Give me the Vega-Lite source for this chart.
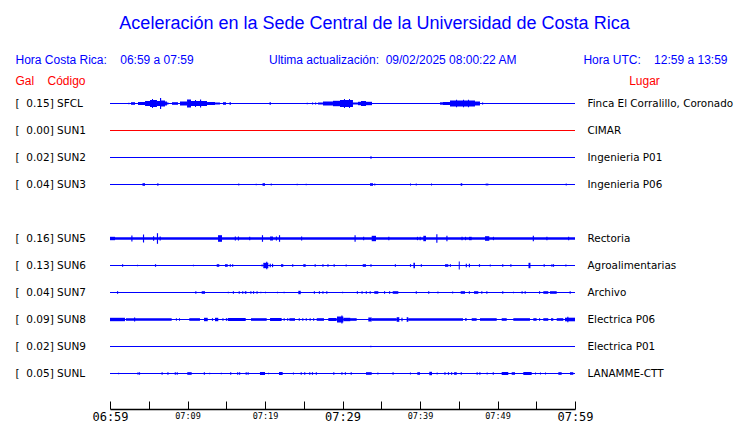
{
  "$schema": "https://vega.github.io/schema/vega-lite/v6.json",
  "width": 465,
  "height": 324,
  "autosize": {"type": "none"},
  "padding": {"left": 110, "top": 76, "right": 165, "bottom": 23},
  "background": "white",
  "config": {"view": {"stroke": null}, "axis": {"grid": false}},
  "title": {
    "text": "Aceleración en la Sede Central de la Universidad de Costa Rica",
    "font": "Liberation Sans",
    "fontSize": 18,
    "fontWeight": "normal",
    "color": "#0000ff",
    "anchor": "middle",
    "dx": 32,
    "offset": 20
  },
  "datasets": {
    "stations": [
      {"s": "SFCL", "gal": 0.15, "place": "Finca El Corralillo, Coronado"},
      {"s": "SUN1", "gal": 0.00, "place": "CIMAR"},
      {"s": "SUN2", "gal": 0.02, "place": "Ingenieria P01"},
      {"s": "SUN3", "gal": 0.04, "place": "Ingenieria P06"},
      {"s": "SUN5", "gal": 0.16, "place": "Rectoria"},
      {"s": "SUN6", "gal": 0.13, "place": "Agroalimentarias"},
      {"s": "SUN7", "gal": 0.04, "place": "Archivo"},
      {"s": "SUN8", "gal": 0.09, "place": "Electrica P06"},
      {"s": "SUN9", "gal": 0.02, "place": "Electrica P01"},
      {"s": "SUNL", "gal": 0.05, "place": "LANAMME-CTT"}
    ],
    "bursts": [
      {"s":"SFCL","t0":2.36,"t1":2.51,"a":0.7},
      {"s":"SFCL","t0":2.71,"t1":3.23,"a":1.3},
      {"s":"SFCL","t0":3.61,"t1":4.52,"a":1.5},
      {"s":"SFCL","t0":4.52,"t1":5.16,"a":2.5},
      {"s":"SFCL","t0":5.16,"t1":6.06,"a":3.5},
      {"s":"SFCL","t0":5.42,"t1":5.55,"a":4.5},
      {"s":"SFCL","t0":6.06,"t1":6.45,"a":2.5},
      {"s":"SFCL","t0":6.45,"t1":6.6,"a":5.5},
      {"s":"SFCL","t0":6.58,"t1":7.1,"a":3},
      {"s":"SFCL","t0":7.1,"t1":7.35,"a":2},
      {"s":"SFCL","t0":7.35,"t1":7.55,"a":1},
      {"s":"SFCL","t0":8.0,"t1":8.77,"a":1.3},
      {"s":"SFCL","t0":9.03,"t1":9.94,"a":2},
      {"s":"SFCL","t0":9.94,"t1":10.45,"a":4},
      {"s":"SFCL","t0":10.45,"t1":12.52,"a":2.5},
      {"s":"SFCL","t0":10.97,"t1":11.1,"a":3.5},
      {"s":"SFCL","t0":11.61,"t1":11.76,"a":4},
      {"s":"SFCL","t0":12.52,"t1":13.55,"a":1.5},
      {"s":"SFCL","t0":13.55,"t1":14.19,"a":1},
      {"s":"SFCL","t0":14.58,"t1":14.97,"a":1.3},
      {"s":"SFCL","t0":15.42,"t1":15.61,"a":1.3},
      {"s":"SFCL","t0":20.58,"t1":20.77,"a":1.3},
      {"s":"SFCL","t0":25.38,"t1":25.53,"a":0.7},
      {"s":"SFCL","t0":26.06,"t1":26.21,"a":1},
      {"s":"SFCL","t0":26.45,"t1":26.6,"a":1},
      {"s":"SFCL","t0":26.84,"t1":27.48,"a":1},
      {"s":"SFCL","t0":27.48,"t1":28.77,"a":2},
      {"s":"SFCL","t0":28.77,"t1":29.68,"a":2.7},
      {"s":"SFCL","t0":29.68,"t1":31.35,"a":3.5},
      {"s":"SFCL","t0":30.19,"t1":30.32,"a":4.5},
      {"s":"SFCL","t0":30.84,"t1":30.97,"a":4.5},
      {"s":"SFCL","t0":31.35,"t1":32.0,"a":1},
      {"s":"SFCL","t0":32.0,"t1":33.81,"a":1.7},
      {"s":"SFCL","t0":32.39,"t1":33.03,"a":2.5},
      {"s":"SFCL","t0":42.58,"t1":42.97,"a":1.2},
      {"s":"SFCL","t0":42.97,"t1":43.87,"a":1.5},
      {"s":"SFCL","t0":43.87,"t1":47.1,"a":3},
      {"s":"SFCL","t0":44.65,"t1":44.78,"a":3.8},
      {"s":"SFCL","t0":45.55,"t1":45.68,"a":3.8},
      {"s":"SFCL","t0":46.19,"t1":46.32,"a":3.8},
      {"s":"SFCL","t0":47.1,"t1":47.74,"a":2},
      {"s":"SFCL","t0":48.0,"t1":48.15,"a":1},
      {"s":"SFCL","t0":48.65,"t1":48.8,"a":0.6},

      {"s":"SUN2","t0":33.6,"t1":33.75,"a":1.2},

      {"s":"SUN3","t0":4.19,"t1":4.52,"a":1.3},
      {"s":"SUN3","t0":6.1,"t1":6.25,"a":1.3},
      {"s":"SUN3","t0":16.55,"t1":16.68,"a":1},
      {"s":"SUN3","t0":18.8,"t1":18.93,"a":0.7},
      {"s":"SUN3","t0":19.68,"t1":20.0,"a":1.3},
      {"s":"SUN3","t0":20.74,"t1":20.87,"a":1},
      {"s":"SUN3","t0":24.09,"t1":24.22,"a":0.7},
      {"s":"SUN3","t0":25.25,"t1":25.38,"a":0.7},
      {"s":"SUN3","t0":33.55,"t1":33.94,"a":1.3},
      {"s":"SUN3","t0":34.1,"t1":34.23,"a":1},
      {"s":"SUN3","t0":38.71,"t1":38.84,"a":1},
      {"s":"SUN3","t0":39.45,"t1":39.58,"a":1},
      {"s":"SUN3","t0":41.42,"t1":41.55,"a":1},
      {"s":"SUN3","t0":45.25,"t1":45.45,"a":1.3},
      {"s":"SUN3","t0":48.48,"t1":48.61,"a":1},
      {"s":"SUN3","t0":48.68,"t1":48.81,"a":1},
      {"s":"SUN3","t0":58.8,"t1":58.93,"a":1},

      {"s":"SUN5","t0":0,"t1":60,"a":1.3},
      {"s":"SUN5","t0":0,"t1":0.65,"a":1.7},
      {"s":"SUN5","t0":2.75,"t1":2.9,"a":3},
      {"s":"SUN5","t0":4.25,"t1":4.4,"a":4},
      {"s":"SUN5","t0":5.55,"t1":5.7,"a":2.3},
      {"s":"SUN5","t0":6.05,"t1":6.2,"a":5.3},
      {"s":"SUN5","t0":6.4,"t1":6.55,"a":2},
      {"s":"SUN5","t0":13.94,"t1":14.45,"a":3.3},
      {"s":"SUN5","t0":16.1,"t1":16.25,"a":2},
      {"s":"SUN5","t0":16.5,"t1":16.65,"a":2},
      {"s":"SUN5","t0":17.95,"t1":18.1,"a":1.7},
      {"s":"SUN5","t0":19.6,"t1":19.75,"a":3.3},
      {"s":"SUN5","t0":20.65,"t1":21.03,"a":2},
      {"s":"SUN5","t0":21.4,"t1":21.55,"a":2},
      {"s":"SUN5","t0":21.8,"t1":21.95,"a":3.3},
      {"s":"SUN5","t0":24.65,"t1":24.8,"a":2},
      {"s":"SUN5","t0":31.55,"t1":31.7,"a":3.3},
      {"s":"SUN5","t0":32.65,"t1":32.8,"a":1.7},
      {"s":"SUN5","t0":33.77,"t1":34.32,"a":2.7},
      {"s":"SUN5","t0":35.9,"t1":36.05,"a":1.7},
      {"s":"SUN5","t0":39.6,"t1":39.75,"a":1.7},
      {"s":"SUN5","t0":39.95,"t1":40.1,"a":1.7},
      {"s":"SUN5","t0":40.43,"t1":40.77,"a":2.7},
      {"s":"SUN5","t0":42.1,"t1":42.25,"a":4.3},
      {"s":"SUN5","t0":43.4,"t1":43.55,"a":2.7},
      {"s":"SUN5","t0":45.35,"t1":45.5,"a":1.7},
      {"s":"SUN5","t0":45.8,"t1":45.95,"a":1.7},
      {"s":"SUN5","t0":46.32,"t1":46.67,"a":1.7},
      {"s":"SUN5","t0":48.39,"t1":48.94,"a":2.3},
      {"s":"SUN5","t0":49.4,"t1":49.55,"a":1.7},
      {"s":"SUN5","t0":54.55,"t1":54.7,"a":2.7},
      {"s":"SUN5","t0":56.3,"t1":56.45,"a":1.7},
      {"s":"SUN5","t0":59.1,"t1":59.25,"a":1.7},

      {"s":"SUN6","t0":1.55,"t1":1.7,"a":1.3},
      {"s":"SUN6","t0":3.5,"t1":3.62,"a":0.8},
      {"s":"SUN6","t0":5.8,"t1":5.95,"a":1.3},
      {"s":"SUN6","t0":10.7,"t1":10.83,"a":0.7},
      {"s":"SUN6","t0":13.77,"t1":14.1,"a":1.3},
      {"s":"SUN6","t0":14.84,"t1":15.19,"a":1.3},
      {"s":"SUN6","t0":15.45,"t1":15.6,"a":1.3},
      {"s":"SUN6","t0":15.75,"t1":15.9,"a":1.3},
      {"s":"SUN6","t0":19.55,"t1":19.7,"a":1},
      {"s":"SUN6","t0":19.78,"t1":20.43,"a":2.7},
      {"s":"SUN6","t0":20.15,"t1":20.3,"a":3.7},
      {"s":"SUN6","t0":20.6,"t1":20.75,"a":1.7},
      {"s":"SUN6","t0":20.9,"t1":21.05,"a":1.7},
      {"s":"SUN6","t0":22.06,"t1":22.36,"a":1.3},
      {"s":"SUN6","t0":23.5,"t1":23.65,"a":1.3},
      {"s":"SUN6","t0":24.94,"t1":25.25,"a":1.3},
      {"s":"SUN6","t0":26.4,"t1":26.55,"a":1.3},
      {"s":"SUN6","t0":27.4,"t1":27.55,"a":1.3},
      {"s":"SUN6","t0":28.05,"t1":28.2,"a":1.3},
      {"s":"SUN6","t0":28.85,"t1":29.0,"a":1.3},
      {"s":"SUN6","t0":30.4,"t1":30.55,"a":1},
      {"s":"SUN6","t0":32.61,"t1":33.03,"a":1.3},
      {"s":"SUN6","t0":33.6,"t1":33.75,"a":1.3},
      {"s":"SUN6","t0":36.75,"t1":36.9,"a":1.3},
      {"s":"SUN6","t0":38.7,"t1":38.85,"a":1.3},
      {"s":"SUN6","t0":39.15,"t1":39.35,"a":2.7},
      {"s":"SUN6","t0":40.1,"t1":40.25,"a":1.3},
      {"s":"SUN6","t0":43.23,"t1":43.65,"a":1.3},
      {"s":"SUN6","t0":43.85,"t1":44.0,"a":1.3},
      {"s":"SUN6","t0":45.0,"t1":45.13,"a":4},
      {"s":"SUN6","t0":45.9,"t1":46.05,"a":1.7},
      {"s":"SUN6","t0":46.3,"t1":46.45,"a":1.7},
      {"s":"SUN6","t0":47.6,"t1":47.75,"a":1.3},
      {"s":"SUN6","t0":49.0,"t1":49.13,"a":1},
      {"s":"SUN6","t0":50.6,"t1":50.75,"a":1.3},
      {"s":"SUN6","t0":51.65,"t1":51.8,"a":1.3},
      {"s":"SUN6","t0":54.0,"t1":54.25,"a":2.7},
      {"s":"SUN6","t0":55.95,"t1":56.1,"a":1.3},
      {"s":"SUN6","t0":56.95,"t1":57.1,"a":1.3},
      {"s":"SUN6","t0":57.15,"t1":57.3,"a":1.3},
      {"s":"SUN6","t0":58.75,"t1":58.9,"a":1},

      {"s":"SUN7","t0":0.9,"t1":1.05,"a":1.3},
      {"s":"SUN7","t0":11.0,"t1":11.15,"a":1.3},
      {"s":"SUN7","t0":11.83,"t1":12.26,"a":1.3},
      {"s":"SUN7","t0":15.2,"t1":15.33,"a":0.7},
      {"s":"SUN7","t0":15.85,"t1":16.0,"a":1.3},
      {"s":"SUN7","t0":16.6,"t1":16.75,"a":1.3},
      {"s":"SUN7","t0":17.05,"t1":17.2,"a":1.3},
      {"s":"SUN7","t0":17.4,"t1":17.6,"a":1.3},
      {"s":"SUN7","t0":18.1,"t1":18.25,"a":1.3},
      {"s":"SUN7","t0":18.45,"t1":18.6,"a":1.3},
      {"s":"SUN7","t0":18.9,"t1":19.05,"a":1.3},
      {"s":"SUN7","t0":19.4,"t1":19.53,"a":0.7},
      {"s":"SUN7","t0":20.0,"t1":20.13,"a":0.7},
      {"s":"SUN7","t0":21.55,"t1":21.68,"a":0.7},
      {"s":"SUN7","t0":22.4,"t1":22.53,"a":0.7},
      {"s":"SUN7","t0":24.3,"t1":24.61,"a":1.7},
      {"s":"SUN7","t0":26.3,"t1":26.45,"a":1.3},
      {"s":"SUN7","t0":26.95,"t1":27.1,"a":1.3},
      {"s":"SUN7","t0":27.4,"t1":27.55,"a":1.3},
      {"s":"SUN7","t0":27.9,"t1":28.05,"a":1.3},
      {"s":"SUN7","t0":29.95,"t1":30.08,"a":0.7},
      {"s":"SUN7","t0":31.85,"t1":32.0,"a":1.3},
      {"s":"SUN7","t0":32.45,"t1":32.6,"a":1.3},
      {"s":"SUN7","t0":33.0,"t1":33.15,"a":1.3},
      {"s":"SUN7","t0":33.5,"t1":33.65,"a":1.3},
      {"s":"SUN7","t0":34.1,"t1":34.62,"a":1.3},
      {"s":"SUN7","t0":35.35,"t1":35.5,"a":1.3},
      {"s":"SUN7","t0":36.0,"t1":36.15,"a":1.3},
      {"s":"SUN7","t0":36.48,"t1":37.2,"a":1.3},
      {"s":"SUN7","t0":39.45,"t1":39.6,"a":1.3},
      {"s":"SUN7","t0":41.05,"t1":41.2,"a":1.3},
      {"s":"SUN7","t0":42.25,"t1":42.38,"a":1},
      {"s":"SUN7","t0":44.15,"t1":44.28,"a":1},
      {"s":"SUN7","t0":45.25,"t1":45.81,"a":1.3},
      {"s":"SUN7","t0":46.3,"t1":46.45,"a":1.3},
      {"s":"SUN7","t0":46.97,"t1":47.52,"a":1.3},
      {"s":"SUN7","t0":47.9,"t1":48.05,"a":1.3},
      {"s":"SUN7","t0":48.55,"t1":48.7,"a":1.3},
      {"s":"SUN7","t0":50.6,"t1":50.75,"a":1.3},
      {"s":"SUN7","t0":52.0,"t1":52.13,"a":0.8},
      {"s":"SUN7","t0":53.1,"t1":53.25,"a":1.3},
      {"s":"SUN7","t0":53.5,"t1":53.65,"a":1.3},
      {"s":"SUN7","t0":55.35,"t1":55.5,"a":1.3},
      {"s":"SUN7","t0":55.91,"t1":56.55,"a":1.3},
      {"s":"SUN7","t0":56.77,"t1":57.64,"a":1.3},
      {"s":"SUN7","t0":59.3,"t1":59.45,"a":1.3},

      {"s":"SUN8","t0":0,"t1":1.94,"a":1.7},
      {"s":"SUN8","t0":2.06,"t1":7.96,"a":1.3},
      {"s":"SUN8","t0":3.1,"t1":3.25,"a":2},
      {"s":"SUN8","t0":8.5,"t1":8.63,"a":1.2},
      {"s":"SUN8","t0":8.9,"t1":9.03,"a":1.2},
      {"s":"SUN8","t0":10.23,"t1":11.61,"a":1.3},
      {"s":"SUN8","t0":12.13,"t1":12.61,"a":1.7},
      {"s":"SUN8","t0":13.15,"t1":13.3,"a":1.3},
      {"s":"SUN8","t0":13.55,"t1":13.97,"a":1.7},
      {"s":"SUN8","t0":14.5,"t1":14.65,"a":1.3},
      {"s":"SUN8","t0":14.95,"t1":15.1,"a":1.3},
      {"s":"SUN8","t0":15.19,"t1":17.51,"a":1.5},
      {"s":"SUN8","t0":18.19,"t1":20.22,"a":1.3},
      {"s":"SUN8","t0":20.65,"t1":22.15,"a":1.5},
      {"s":"SUN8","t0":22.4,"t1":22.55,"a":1.3},
      {"s":"SUN8","t0":22.85,"t1":23.0,"a":1.3},
      {"s":"SUN8","t0":23.14,"t1":23.87,"a":1.3},
      {"s":"SUN8","t0":24.35,"t1":24.5,"a":1.3},
      {"s":"SUN8","t0":24.8,"t1":24.95,"a":1.3},
      {"s":"SUN8","t0":25.25,"t1":25.4,"a":1.3},
      {"s":"SUN8","t0":25.75,"t1":25.9,"a":1.3},
      {"s":"SUN8","t0":26.2,"t1":26.35,"a":1.3},
      {"s":"SUN8","t0":26.67,"t1":27.61,"a":1.3},
      {"s":"SUN8","t0":28.17,"t1":29.25,"a":1.5},
      {"s":"SUN8","t0":29.29,"t1":30.1,"a":3},
      {"s":"SUN8","t0":29.85,"t1":30.0,"a":4},
      {"s":"SUN8","t0":30.1,"t1":31.0,"a":1.7},
      {"s":"SUN8","t0":30.45,"t1":31.83,"a":1.3},
      {"s":"SUN8","t0":33.33,"t1":33.77,"a":2},
      {"s":"SUN8","t0":33.77,"t1":36.99,"a":1.3},
      {"s":"SUN8","t0":36.99,"t1":37.33,"a":2.3},
      {"s":"SUN8","t0":37.6,"t1":37.75,"a":1.7},
      {"s":"SUN8","t0":38.28,"t1":38.49,"a":2.3},
      {"s":"SUN8","t0":38.49,"t1":45.55,"a":1.2},
      {"s":"SUN8","t0":45.81,"t1":46.03,"a":1.3},
      {"s":"SUN8","t0":46.67,"t1":47.31,"a":1.3},
      {"s":"SUN8","t0":47.74,"t1":49.9,"a":1.3},
      {"s":"SUN8","t0":50.54,"t1":51.19,"a":1.3},
      {"s":"SUN8","t0":52.04,"t1":54.19,"a":1.3},
      {"s":"SUN8","t0":54.62,"t1":55.05,"a":1.3},
      {"s":"SUN8","t0":55.35,"t1":55.5,"a":1.3},
      {"s":"SUN8","t0":55.91,"t1":56.55,"a":1.3},
      {"s":"SUN8","t0":56.9,"t1":57.2,"a":1.3},
      {"s":"SUN8","t0":57.64,"t1":58.49,"a":1.3},
      {"s":"SUN8","t0":58.71,"t1":60,"a":1.8},
      {"s":"SUN8","t0":59.0,"t1":59.15,"a":2.7},

      {"s":"SUN9","t0":33.6,"t1":33.72,"a":0.8},

      {"s":"SUNL","t0":1.05,"t1":1.18,"a":0.8},
      {"s":"SUNL","t0":3.55,"t1":3.68,"a":1.3},
      {"s":"SUNL","t0":3.75,"t1":3.88,"a":1.3},
      {"s":"SUNL","t0":6.65,"t1":6.8,"a":1.3},
      {"s":"SUNL","t0":7.4,"t1":7.55,"a":1.3},
      {"s":"SUNL","t0":8.35,"t1":8.5,"a":1.3},
      {"s":"SUNL","t0":8.6,"t1":8.75,"a":1.3},
      {"s":"SUNL","t0":9.97,"t1":10.54,"a":1.3},
      {"s":"SUNL","t0":12.1,"t1":12.25,"a":1.3},
      {"s":"SUNL","t0":12.8,"t1":12.93,"a":0.8},
      {"s":"SUNL","t0":14.3,"t1":14.43,"a":0.7},
      {"s":"SUNL","t0":15.5,"t1":15.65,"a":1.3},
      {"s":"SUNL","t0":16.4,"t1":16.55,"a":1.3},
      {"s":"SUNL","t0":16.65,"t1":16.8,"a":1.3},
      {"s":"SUNL","t0":17.5,"t1":17.65,"a":1.3},
      {"s":"SUNL","t0":17.75,"t1":17.9,"a":1.3},
      {"s":"SUNL","t0":19.35,"t1":20.0,"a":1.5},
      {"s":"SUNL","t0":20.4,"t1":20.53,"a":0.7},
      {"s":"SUNL","t0":21.81,"t1":22.28,"a":1.5},
      {"s":"SUNL","t0":23.6,"t1":23.73,"a":1},
      {"s":"SUNL","t0":24.6,"t1":24.75,"a":1.3},
      {"s":"SUNL","t0":25.05,"t1":25.2,"a":1.3},
      {"s":"SUNL","t0":25.7,"t1":25.85,"a":1.3},
      {"s":"SUNL","t0":26.05,"t1":26.2,"a":1.3},
      {"s":"SUNL","t0":26.55,"t1":26.7,"a":1.3},
      {"s":"SUNL","t0":28.8,"t1":28.95,"a":1.3},
      {"s":"SUNL","t0":29.85,"t1":30.0,"a":1.3},
      {"s":"SUNL","t0":30.3,"t1":30.45,"a":1.3},
      {"s":"SUNL","t0":31.05,"t1":31.2,"a":1.3},
      {"s":"SUNL","t0":33.03,"t1":33.77,"a":1.3},
      {"s":"SUNL","t0":34.5,"t1":34.63,"a":1},
      {"s":"SUNL","t0":36.45,"t1":36.6,"a":1.3},
      {"s":"SUNL","t0":38.7,"t1":38.83,"a":1},
      {"s":"SUNL","t0":39.65,"t1":40.0,"a":1.3},
      {"s":"SUNL","t0":41.2,"t1":41.55,"a":1.7},
      {"s":"SUNL","t0":42.15,"t1":42.28,"a":1},
      {"s":"SUNL","t0":43.14,"t1":43.3,"a":1.3},
      {"s":"SUNL","t0":43.6,"t1":43.75,"a":1.3},
      {"s":"SUNL","t0":44.0,"t1":44.15,"a":1.3},
      {"s":"SUNL","t0":44.4,"t1":44.74,"a":1.3},
      {"s":"SUNL","t0":45.25,"t1":45.4,"a":1.3},
      {"s":"SUNL","t0":47.3,"t1":47.45,"a":1.3},
      {"s":"SUNL","t0":47.65,"t1":47.8,"a":1.3},
      {"s":"SUNL","t0":48.6,"t1":48.73,"a":1},
      {"s":"SUNL","t0":49.38,"t1":49.53,"a":1.3},
      {"s":"SUNL","t0":50.54,"t1":51.39,"a":1.5},
      {"s":"SUNL","t0":51.83,"t1":52.26,"a":1.3},
      {"s":"SUNL","t0":53.33,"t1":54.41,"a":1.5},
      {"s":"SUNL","t0":54.84,"t1":54.97,"a":1},
      {"s":"SUNL","t0":55.48,"t1":55.61,"a":1},
      {"s":"SUNL","t0":56.13,"t1":56.26,"a":1},
      {"s":"SUNL","t0":57.85,"t1":58.28,"a":1.3},
      {"s":"SUNL","t0":59.35,"t1":59.78,"a":1.3}
    ]
  },
  "resolve": {"axis": {"x": "independent", "y": "independent"}},
  "layer": [
    {
      "data": {"name": "stations"},
      "mark": {"type": "rule", "strokeWidth": 1, "yOffset": 0.5},
      "encoding": {
        "x": {
          "datum": 0,
          "type": "quantitative",
          "scale": {"domain": [0, 60], "nice": false, "zero": false},
          "axis": {
            "orient": "top",
            "title": null,
            "values": [0, 32.77, 60],
            "ticks": false,
            "domain": false,
            "grid": false,
            "labelExpr": "datum.value == 0 ? 'Hora Costa Rica:\u00a0\u00a0\u00a0\u00a006:59 a 07:59' : (datum.value == 60 ? 'Hora UTC:\u00a0\u00a0\u00a0\u00a012:59 a 13:59' : 'Ultima actualización:\u00a0\u00a009/02/2025 08:00:22 AM')",
            "labelAlign": {"condition": {"test": "datum.value == 0", "value": "left"}, "value": "right"},
            "labelOffset": {"condition": {"test": "datum.value == 0", "value": -95}, "value": 152},
            "labelFont": "Liberation Sans",
            "labelFontSize": 12,
            "labelColor": "#0000ff",
            "labelPadding": 10,
            "labelOverlap": false,
            "labelFlush": false,
            "labelBound": false,
            "labelLimit": 400
          }
        },
        "x2": {"datum": 60},
        "y": {
          "field": "s",
          "type": "nominal",
          "scale": {"type": "point", "domain": ["SFCL","SUN1","SUN2","SUN3","SUN4","SUN5","SUN6","SUN7","SUN8","SUN9","SUNL"], "padding": 1},
          "axis": {
            "orient": "right",
            "ticks": false,
            "domain": false,
            "grid": false,
            "labelAlign": "left",
            "labelPadding": 12,
            "labelFont": "DejaVu Sans",
            "labelFontSize": 10.4,
            "labelColor": "black",
            "labelExpr": "{'SFCL':'Finca El Corralillo, Coronado','SUN1':'CIMAR','SUN2':'Ingenieria P01','SUN3':'Ingenieria P06','SUN5':'Rectoria','SUN6':'Agroalimentarias','SUN7':'Archivo','SUN8':'Electrica P06','SUN9':'Electrica P01','SUNL':'LANAMME-CTT'}[datum.value] || ''",
            "title": "Lugar",
            "titleAngle": 0,
            "titleAlign": "center",
            "titleBaseline": "middle",
            "titleX": 69,
            "titleY": 4,
            "titleColor": "#ff0000",
            "titleFont": "Liberation Sans",
            "titleFontSize": 12,
            "titleFontWeight": "normal"
          }
        },
        "color": {
          "condition": {"test": "datum.gal == 0", "value": "#ff0000"},
          "value": "#0000ff"
        }
      }
    },
    {
      "data": {"name": "bursts"},
      "mark": {"type": "rule", "color": "#0000ff", "yOffset": 0.5},
      "encoding": {
        "x": {
          "field": "t0",
          "type": "quantitative",
          "scale": {"domain": [0, 60], "nice": false, "zero": false},
          "axis": {
            "orient": "bottom",
            "title": null,
            "offset": 9,
            "values": [0, 5, 10, 15, 20, 25, 30, 35, 40, 45, 50, 55, 60],
            "grid": false,
            "domainColor": "black",
            "domainWidth": 1.5,
            "tickColor": "black",
            "tickWidth": 1,
            "tickSize": -8,
            "labelPadding": 10.5,
            "labelExpr": "['06:59','','07:09','','07:19','','07:29','','07:39','','07:49','','07:59'][round(datum.value / 5)]",
            "labelFont": "DejaVu Sans Mono",
            "labelFontSize": {"condition": {"test": "datum.value % 30 == 0", "value": 12}, "value": 8.5},
            "labelColor": "black",
            "labelBaseline": "top",
            "labelFlush": false,
            "labelBound": false,
            "labelOverlap": false
          }
        },
        "x2": {"field": "t1"},
        "y": {
          "field": "s",
          "type": "nominal",
          "scale": {"type": "point", "domain": ["SFCL","SUN1","SUN2","SUN3","SUN4","SUN5","SUN6","SUN7","SUN8","SUN9","SUNL"], "padding": 1},
          "axis": {
            "orient": "left",
            "ticks": false,
            "domain": false,
            "grid": false,
            "labelAlign": "left",
            "labelPadding": 95,
            "labelFont": "DejaVu Sans",
            "labelFontSize": 10.5,
            "labelColor": "black",
            "labelExpr": "{'SFCL':'[\u00a0\u00a00.15] SFCL','SUN1':'[\u00a0\u00a00.00] SUN1','SUN2':'[\u00a0\u00a00.02] SUN2','SUN3':'[\u00a0\u00a00.04] SUN3','SUN5':'[\u00a0\u00a00.16] SUN5','SUN6':'[\u00a0\u00a00.13] SUN6','SUN7':'[\u00a0\u00a00.04] SUN7','SUN8':'[\u00a0\u00a00.09] SUN8','SUN9':'[\u00a0\u00a00.02] SUN9','SUNL':'[\u00a0\u00a00.05] SUNL'}[datum.value] || ''",
            "title": "Gal\u00a0\u00a0\u00a0\u00a0Código",
            "titleAngle": 0,
            "titleAlign": "left",
            "titleBaseline": "middle",
            "titleX": -95,
            "titleY": 4,
            "titleColor": "#ff0000",
            "titleFont": "Liberation Sans",
            "titleFontSize": 12,
            "titleFontWeight": "normal"
          }
        },
        "size": {
          "field": "a",
          "type": "quantitative",
          "scale": {"type": "linear", "domain": [0, 6], "range": [0, 12], "zero": true},
          "legend": null
        }
      }
    }
  ]
}
